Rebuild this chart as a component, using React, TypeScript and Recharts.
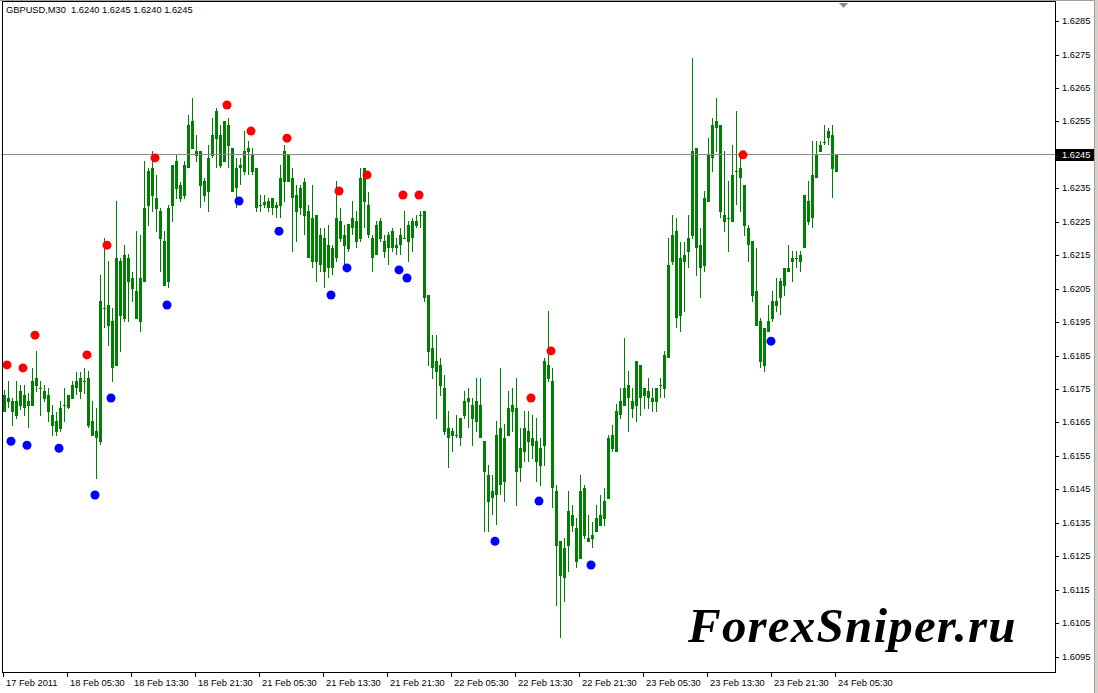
import React from 'react';
import { ComposedChart, Bar, Line, XAxis, YAxis, ReferenceLine } from 'recharts';

// GBPUSD M30, 17 Feb 21:30 .. 24 Feb 05:30
const timeLabels = [
  '17 Feb 2011', '18 Feb 05:30', '18 Feb 13:30', '18 Feb 21:30', '21 Feb 05:30', '21 Feb 13:30', '21 Feb 21:30',
  '22 Feb 05:30', '22 Feb 13:30', '22 Feb 21:30', '23 Feb 05:30', '23 Feb 13:30', '23 Feb 21:30', '24 Feb 05:30',
];
const timeTickIdx = [0, 16, 32, 48, 64, 80, 96, 112, 128, 144, 160, 176, 192, 208];

const open = [
  1.61681, 1.61723, 1.61714, 1.61669, 1.61699, 1.61732, 1.61699, 1.61699, 1.61783, 1.61753,
  1.61744, 1.61732, 1.61672, 1.61654, 1.61630, 1.61702, 1.61693, 1.61720, 1.61753, 1.61783,
  1.61774, 1.61783, 1.61654, 1.61603, 1.61591, 1.61992, 1.62001, 1.61953, 1.61819, 1.62133,
  1.61959, 1.62142, 1.62082, 1.62043, 1.61950, 1.62070, 1.62297, 1.62411, 1.62321, 1.62282,
  1.62192, 1.62070, 1.62297, 1.62432, 1.62360, 1.62327, 1.62411, 1.62551, 1.62462, 1.62462,
  1.62372, 1.62339, 1.62447, 1.62497, 1.62509, 1.62429, 1.62539, 1.62470, 1.62351, 1.62411,
  1.62399, 1.62459, 1.62450, 1.62411, 1.62300, 1.62300, 1.62312, 1.62291, 1.62300, 1.62297,
  1.62369, 1.62450, 1.62381, 1.62330, 1.62291, 1.62369, 1.62282, 1.62130, 1.62270, 1.62121,
  1.62201, 1.62112, 1.62171, 1.62142, 1.62252, 1.62210, 1.62168, 1.62231, 1.62252, 1.62198,
  1.62411, 1.62300, 1.62201, 1.62151, 1.62252, 1.62192, 1.62171, 1.62222, 1.62171, 1.62180,
  1.62201, 1.62189, 1.62252, 1.62237, 1.62270, 1.62282, 1.62031, 1.61872, 1.61801, 1.61822,
  1.61753, 1.61633, 1.61609, 1.61612, 1.61603, 1.61669, 1.61711, 1.61702, 1.61651, 1.61702,
  1.61594, 1.61493, 1.61424, 1.61433, 1.61633, 1.61472, 1.61609, 1.61702, 1.61693, 1.61514,
  1.61562, 1.61624, 1.61603, 1.61594, 1.61520, 1.61579, 1.61822, 1.61774, 1.61445, 1.61295,
  1.61185, 1.61280, 1.61373, 1.61334, 1.61242, 1.61454, 1.61304, 1.61301, 1.61322, 1.61373,
  1.61361, 1.61421, 1.61612, 1.61562, 1.61672, 1.61699, 1.61762, 1.61714, 1.61699, 1.61822,
  1.61729, 1.61744, 1.61723, 1.61711, 1.61762, 1.61750, 1.61843, 1.62130, 1.62222, 1.61968,
  1.62151, 1.62160, 1.62207, 1.62470, 1.62180, 1.62118, 1.62309, 1.62441, 1.62530, 1.62539,
  1.62270, 1.62261, 1.62249, 1.62402, 1.62411, 1.62360, 1.62231, 1.62192, 1.62043, 1.61953,
  1.61819, 1.61920, 1.61959, 1.62013, 1.62022, 1.62058, 1.62100, 1.62130, 1.62142, 1.62130,
  1.62171, 1.62312, 1.62261, 1.62381, 1.62459, 1.62488, 1.62500, 1.62509, 1.6240,
];
const high = [
  1.61747, 1.61774, 1.61723, 1.61774, 1.61762, 1.61762, 1.61738, 1.61813, 1.61864, 1.61774,
  1.61762, 1.61753, 1.61702, 1.61681, 1.61714, 1.61753, 1.61732, 1.61774, 1.61801, 1.61801,
  1.61813, 1.61804, 1.61714, 1.61693, 1.62091, 1.62201, 1.62133, 1.61992, 1.62312, 1.62142,
  1.62180, 1.62154, 1.62100, 1.62222, 1.62210, 1.62432, 1.62411, 1.62462, 1.62390, 1.62291,
  1.62222, 1.62300, 1.62420, 1.62450, 1.62369, 1.62432, 1.62569, 1.62620, 1.62509, 1.62462,
  1.62381, 1.62479, 1.62560, 1.62590, 1.62539, 1.62551, 1.62560, 1.62470, 1.62441, 1.62441,
  1.62521, 1.62491, 1.62470, 1.62411, 1.62330, 1.62330, 1.62321, 1.62321, 1.62309, 1.62420,
  1.62479, 1.62450, 1.62411, 1.62360, 1.62360, 1.62381, 1.62300, 1.62360, 1.62270, 1.62231,
  1.62231, 1.62240, 1.62180, 1.62372, 1.62291, 1.62240, 1.62243, 1.62312, 1.62282, 1.62411,
  1.62411, 1.62339, 1.62210, 1.62252, 1.62261, 1.62210, 1.62219, 1.62231, 1.62201, 1.62231,
  1.62282, 1.62252, 1.62261, 1.62270, 1.62282, 1.62282, 1.62031, 1.61911, 1.61911, 1.61843,
  1.61792, 1.61684, 1.61633, 1.61672, 1.61663, 1.61744, 1.61753, 1.61723, 1.61783, 1.61783,
  1.61594, 1.61523, 1.61493, 1.61654, 1.61813, 1.61645, 1.61744, 1.61753, 1.61783, 1.61633,
  1.61684, 1.61684, 1.61672, 1.61663, 1.61603, 1.61843, 1.61983, 1.61813, 1.61463, 1.61295,
  1.61304, 1.61445, 1.61403, 1.61364, 1.61493, 1.61463, 1.61373, 1.61352, 1.61403, 1.61433,
  1.61454, 1.61612, 1.61642, 1.61705, 1.61753, 1.61902, 1.61804, 1.61753, 1.61834, 1.61822,
  1.61753, 1.61783, 1.61753, 1.61753, 1.61783, 1.61864, 1.62201, 1.62270, 1.62261, 1.62189,
  1.62189, 1.62270, 1.62740, 1.62470, 1.62231, 1.62342, 1.62500, 1.62560, 1.62620, 1.62539,
  1.62462, 1.62372, 1.62479, 1.62581, 1.62450, 1.62360, 1.62240, 1.62192, 1.62171, 1.61962,
  1.61932, 1.62001, 1.62043, 1.62082, 1.62082, 1.62112, 1.62180, 1.62163, 1.62163, 1.62163,
  1.62330, 1.62372, 1.62491, 1.62491, 1.62491, 1.62539, 1.62530, 1.62539, 1.6245,
];
const low = [
  1.61681, 1.61693, 1.61639, 1.61660, 1.61687, 1.61669, 1.61633, 1.61699, 1.61741, 1.61669,
  1.61711, 1.61651, 1.61609, 1.61609, 1.61621, 1.61651, 1.61690, 1.61720, 1.61732, 1.61720,
  1.61735, 1.61633, 1.61609, 1.61481, 1.61582, 1.61932, 1.61878, 1.61771, 1.61819, 1.61861,
  1.61950, 1.61950, 1.62010, 1.61959, 1.61920, 1.62070, 1.62237, 1.62279, 1.62219, 1.62100,
  1.62058, 1.62052, 1.62249, 1.62318, 1.62309, 1.62318, 1.62411, 1.62467, 1.62429, 1.62291,
  1.62309, 1.62279, 1.62441, 1.62411, 1.62411, 1.62429, 1.62411, 1.62339, 1.62291, 1.62360,
  1.62390, 1.62390, 1.62390, 1.62279, 1.62279, 1.62291, 1.62279, 1.62270, 1.62261, 1.62261,
  1.62309, 1.62369, 1.62160, 1.62189, 1.62270, 1.62210, 1.62142, 1.62112, 1.62070, 1.62100,
  1.62052, 1.62082, 1.62091, 1.62130, 1.62189, 1.62121, 1.62160, 1.62210, 1.62171, 1.62189,
  1.62231, 1.62201, 1.62100, 1.62151, 1.62189, 1.62142, 1.62121, 1.62160, 1.62151, 1.62151,
  1.62201, 1.62130, 1.62160, 1.62231, 1.62231, 1.62010, 1.61819, 1.61780, 1.61660, 1.61729,
  1.61612, 1.61514, 1.61562, 1.61603, 1.61579, 1.61660, 1.61633, 1.61579, 1.61621, 1.61603,
  1.61322, 1.61322, 1.61373, 1.61343, 1.61433, 1.61412, 1.61609, 1.61621, 1.61400, 1.61472,
  1.61532, 1.61532, 1.61541, 1.61472, 1.61460, 1.61520, 1.61771, 1.61394, 1.61101, 1.61005,
  1.61113, 1.61203, 1.61322, 1.61215, 1.61242, 1.61301, 1.61292, 1.61274, 1.61322, 1.61340,
  1.61340, 1.61421, 1.61562, 1.61562, 1.61660, 1.61699, 1.61621, 1.61663, 1.61651, 1.61669,
  1.61690, 1.61690, 1.61681, 1.61681, 1.61723, 1.61723, 1.61843, 1.62121, 1.61932, 1.61920,
  1.61980, 1.62112, 1.62198, 1.62088, 1.62022, 1.62100, 1.62309, 1.62399, 1.62459, 1.62261,
  1.62219, 1.62160, 1.62249, 1.62300, 1.62279, 1.62207, 1.62130, 1.62010, 1.61938, 1.61813,
  1.61801, 1.61920, 1.61950, 1.61980, 1.61971, 1.62028, 1.62100, 1.62070, 1.62112, 1.62100,
  1.62171, 1.62240, 1.62231, 1.62381, 1.62459, 1.62479, 1.62479, 1.62321, 1.6240,
];
const close = [
  1.61732, 1.61711, 1.61681, 1.61714, 1.61744, 1.61693, 1.61714, 1.61774, 1.61759, 1.61753,
  1.61720, 1.61681, 1.61639, 1.61621, 1.61693, 1.61702, 1.61732, 1.61762, 1.61774, 1.61741,
  1.61774, 1.61639, 1.61609, 1.61624, 1.62013, 1.61992, 1.61938, 1.61813, 1.62142, 1.61968,
  1.62151, 1.62070, 1.62049, 1.61959, 1.62082, 1.62291, 1.62402, 1.62327, 1.62288, 1.62198,
  1.62058, 1.62291, 1.62420, 1.62348, 1.62318, 1.62420, 1.62539, 1.62467, 1.62447, 1.62357,
  1.62327, 1.62441, 1.62509, 1.62581, 1.62417, 1.62551, 1.62476, 1.62339, 1.62411, 1.62420,
  1.62462, 1.62470, 1.62399, 1.62291, 1.62300, 1.62309, 1.62291, 1.62321, 1.62291, 1.62381,
  1.62462, 1.62369, 1.62321, 1.62279, 1.62351, 1.62267, 1.62142, 1.62261, 1.62130, 1.62210,
  1.62100, 1.62180, 1.62112, 1.62261, 1.62198, 1.62177, 1.62243, 1.62261, 1.62189, 1.62381,
  1.62309, 1.62210, 1.62142, 1.62240, 1.62198, 1.62160, 1.62210, 1.62171, 1.62180, 1.62210,
  1.62201, 1.62240, 1.62201, 1.62252, 1.62270, 1.62022, 1.61861, 1.61813, 1.61834, 1.61759,
  1.61621, 1.61603, 1.61624, 1.61612, 1.61663, 1.61714, 1.61723, 1.61660, 1.61714, 1.61603,
  1.61502, 1.61412, 1.61445, 1.61612, 1.61463, 1.61603, 1.61693, 1.61681, 1.61502, 1.61573,
  1.61633, 1.61591, 1.61579, 1.61532, 1.61573, 1.61834, 1.61780, 1.61454, 1.61280, 1.61191,
  1.61274, 1.61385, 1.61340, 1.61233, 1.61445, 1.61310, 1.61292, 1.61313, 1.61364, 1.61340,
  1.61415, 1.61603, 1.61570, 1.61684, 1.61714, 1.61753, 1.61723, 1.61690, 1.61834, 1.61723,
  1.61753, 1.61723, 1.61711, 1.61753, 1.61762, 1.61852, 1.62121, 1.62210, 1.61962, 1.62142,
  1.62130, 1.62201, 1.62462, 1.62171, 1.62112, 1.62321, 1.62450, 1.62539, 1.62551, 1.62279,
  1.62249, 1.62261, 1.62390, 1.62402, 1.62381, 1.62237, 1.62180, 1.62028, 1.61938, 1.61831,
  1.61932, 1.61953, 1.62013, 1.61998, 1.62073, 1.62112, 1.62112, 1.62142, 1.62142, 1.62151,
  1.62330, 1.62249, 1.62390, 1.62450, 1.62479, 1.62488, 1.62521, 1.62408, 1.6245,
];

// fractal-style dots (red above, blue below)
const upIdx = [1, 5, 8, 21, 26, 38, 56, 62, 71, 84, 91, 100, 104, 132, 137, 185];
const upVal = [1.61822, 1.61813, 1.61911, 1.61852, 1.62180, 1.62441, 1.62599, 1.62521, 1.62500, 1.62342, 1.62390, 1.62330, 1.62330, 1.61723, 1.61864, 1.62450];
const dnIdx = [2, 6, 14, 23, 27, 41, 59, 69, 82, 86, 99, 101, 123, 134, 147, 192];
const dnVal = [1.61594, 1.61582, 1.61573, 1.61433, 1.61723, 1.62001, 1.62312, 1.62222, 1.62031, 1.62112, 1.62106, 1.62082, 1.61295, 1.61415, 1.61224, 1.61893];

const priceTicks = [
  1.6285, 1.6275, 1.6265, 1.6255, 1.6245, 1.6235, 1.6225, 1.6215, 1.6205, 1.6195,
  1.6185, 1.6175, 1.6165, 1.6155, 1.6145, 1.6135, 1.6125, 1.6115, 1.6105, 1.6095,
];
const bidPrice = 1.6245;
const SLOTS = 264; // visible bar slots incl. empty space on the right

const FONT = '"Liberation Sans", Arial, sans-serif';
const GREEN = '#008000';

const rows = Array.from({ length: SLOTS }, (_, i) => {
  const row: any = { i };
  if (i < open.length) {
    row.o = open[i];
    row.h = high[i];
    row.l = low[i];
    row.c = close[i];
    row.hl = [low[i], high[i]];
  }
  const u = upIdx.indexOf(i);
  if (u >= 0) row.up = upVal[u];
  const d = dnIdx.indexOf(i);
  if (d >= 0) row.dn = dnVal[d];
  return row;
});

function Candle(props: any) {
  const { x, y, width, height, payload } = props;
  if (!payload || payload.h == null || !isFinite(y) || !isFinite(height)) return null;
  const top = Math.min(y, y + height);
  const bottom = Math.max(y, y + height);
  const span = payload.h - payload.l;
  const k = span > 0 ? (bottom - top) / span : 0;
  const yo = top + (payload.h - payload.o) * k;
  const yc = top + (payload.h - payload.c) * k;
  const cx = Math.round(x + width / 2);
  const wTop = Math.round(top);
  const wBot = Math.max(wTop + 1, Math.round(bottom));
  const bTop = Math.round(Math.min(yo, yc));
  const bBot = Math.max(bTop + 1, Math.round(Math.max(yo, yc)));
  return (
    <g shapeRendering="crispEdges">
      <rect x={cx} y={wTop} width={1} height={wBot - wTop} fill={GREEN} />
      <rect x={cx - 1} y={bTop} width={3} height={bBot - bTop} fill={GREEN} />
    </g>
  );
}

function TimeTick(props: any) {
  const { x, payload } = props;
  const n = timeTickIdx.indexOf(Number(payload.value));
  if (n < 0) return null;
  const px = Math.round(x);
  return (
    <g>
      <line x1={px + 0.5} x2={px + 0.5} y1={672} y2={677} stroke="#000" shapeRendering="crispEdges" />
      <text x={px + 3} y={683} fontSize={9.3} fontFamily={FONT} fill="#000" textAnchor="start" dominantBaseline="central">
        {timeLabels[n]}
      </text>
    </g>
  );
}

function PriceTick(props: any) {
  const { y, payload } = props;
  const v = Number(payload.value);
  const py = Math.round(y);
  const label = v.toFixed(4);
  if (Math.abs(v - bidPrice) < 1e-7) {
    return (
      <g>
        <rect x={1056} y={py - 6} width={38} height={12} fill="#000" />
        <text x={1062} y={py} fontSize={9.3} fontFamily={FONT} fill="#fff" dominantBaseline="central">{label}</text>
      </g>
    );
  }
  return (
    <g>
      <line x1={1055} x2={1059} y1={py + 0.5} y2={py + 0.5} stroke="#000" shapeRendering="crispEdges" />
      <text x={1062} y={py} fontSize={9.3} fontFamily={FONT} fill="#000" dominantBaseline="central">{label}</text>
    </g>
  );
}

export default function App() {
  return (
    <div style={{ position: 'fixed', left: 0, top: 0, width: 1098, height: 693, background: '#fff', overflow: 'hidden' }}>
      <div style={{ position: 'absolute', left: 0, top: 0 }}>
        <ComposedChart width={1098} height={693} data={rows} margin={{ top: 2, right: 0, bottom: 0, left: 1 }}>
          <XAxis dataKey="i" type="category" interval={0} height={21} axisLine={false} tickLine={false} tick={<TimeTick />} />
          <YAxis
            orientation="right"
            width={41}
            type="number"
            domain={[1.60904, 1.62907]}
            allowDataOverflow
            ticks={priceTicks}
            interval={0}
            axisLine={false}
            tickLine={false}
            tick={<PriceTick />}
          />
          <ReferenceLine y={bidPrice} stroke="#8c8c8c" strokeWidth={1} shapeRendering="crispEdges" />
          <Bar dataKey="hl" barSize={3} shape={<Candle />} isAnimationActive={false} />
          <Line dataKey="up" stroke="none" dot={{ r: 4.5, fill: '#ff0000', stroke: 'none' }} activeDot={false} isAnimationActive={false} />
          <Line dataKey="dn" stroke="none" dot={{ r: 4.5, fill: '#0000ff', stroke: 'none' }} activeDot={false} isAnimationActive={false} />
        </ComposedChart>
      </div>
      <svg width={1098} height={693} style={{ position: 'absolute', left: 0, top: 0, pointerEvents: 'none' }}>
        <line x1={0} x2={1098} y1={0.5} y2={0.5} stroke="#a0a0a0" />
        <rect x={2.5} y={1.5} width={1053} height={671} fill="none" stroke="#000" />
        <rect x={1094} y={0} width={4} height={693} fill="#d4d0c8" />
        <line x1={1094.5} x2={1094.5} y1={0} y2={693} stroke="#a0a0a0" />
        <polygon points="839,3 848,3 843.5,8" fill="#7f8c99" />
        <text x={6} y={10} fontSize={9.3} fontFamily={FONT} fill="#000" dominantBaseline="central" style={{ whiteSpace: 'pre' }}>
          {'GBPUSD,M30  1.6240 1.6245 1.6240 1.6245'}
        </text>
        <text x={688} y={642} fontSize={49} fontFamily='"Liberation Serif", "Times New Roman", serif' fontWeight="bold" fontStyle="italic" letterSpacing={1.2} fill="#000">
          ForexSniper.ru
        </text>
      </svg>
    </div>
  );
}
